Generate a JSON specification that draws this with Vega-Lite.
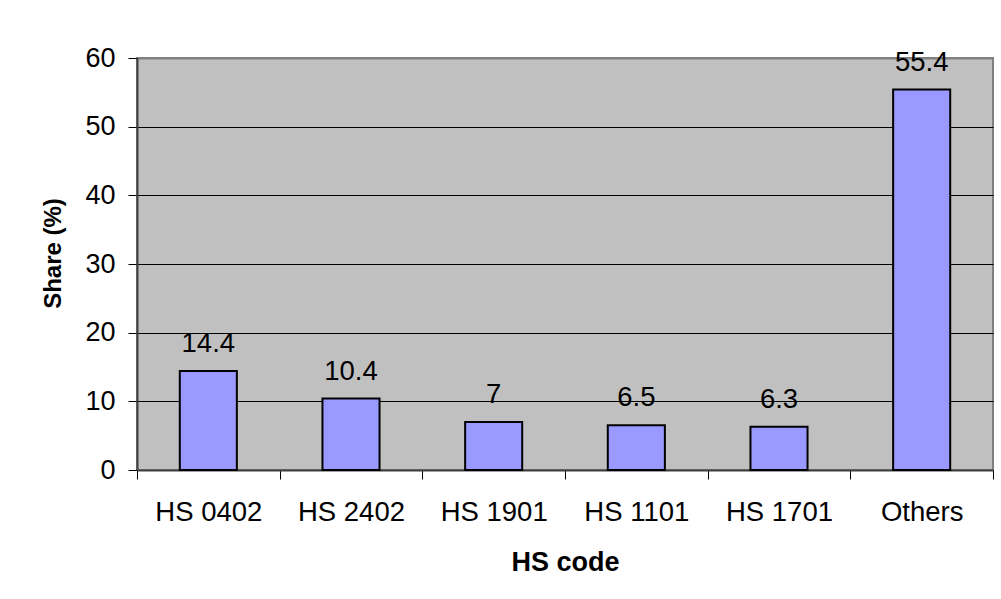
{
  "$schema": "https://vega.github.io/schema/vega-lite/v6.json",
  "autosize": "none",
  "width": 856,
  "height": 412,
  "padding": {"left": 137, "top": 58, "right": 8, "bottom": 129},
  "background": "white",
  "config": {
    "font": "Arial, Liberation Sans, sans-serif",
    "view": {"fill": "#C0C0C0", "stroke": "#808080", "strokeWidth": 2}
  },
  "data": {
    "values": [
      {"code": "HS 0402", "share": 14.4},
      {"code": "HS 2402", "share": 10.4},
      {"code": "HS 1901", "share": 7},
      {"code": "HS 1101", "share": 6.5},
      {"code": "HS 1701", "share": 6.3},
      {"code": "Others", "share": 55.4}
    ]
  },
  "encoding": {
    "x": {
      "field": "code",
      "type": "nominal",
      "sort": null,
      "scale": {"paddingInner": 0, "paddingOuter": 0},
      "axis": {
        "title": "HS code",
        "titleFontSize": 27,
        "titleFontWeight": "bold",
        "titleColor": "black",
        "titleY": 100,
        "titleBaseline": "alphabetic",
        "labelAngle": 0,
        "labelFontSize": 27.5,
        "labelColor": "black",
        "labelPadding": 19,
        "tickBand": "extent",
        "tickSize": 9,
        "tickColor": "black",
        "domainColor": "#404040",
        "domainWidth": 2,
        "grid": false
      }
    },
    "y": {
      "field": "share",
      "type": "quantitative",
      "scale": {"domain": [0, 60], "nice": false},
      "axis": {
        "title": "Share (%)",
        "titleFontSize": 24,
        "titleFontWeight": "bold",
        "titleColor": "black",
        "titleX": -84,
        "titleY": 195,
        "titleBaseline": "middle",
        "values": [0, 10, 20, 30, 40, 50, 60],
        "labelFontSize": 27,
        "labelColor": "black",
        "labelPadding": 13,
        "tickSize": 9,
        "tickColor": "black",
        "domainColor": "#404040",
        "domainWidth": 2,
        "grid": true,
        "gridColor": {"condition": {"test": "datum.value == 60", "value": "#808080"}, "value": "black"},
        "gridWidth": {"condition": {"test": "datum.value == 60", "value": 2}, "value": 1},
        "gridOpacity": 1
      }
    }
  },
  "layer": [
    {
      "mark": {"type": "bar", "width": {"band": 0.4}, "fill": "#9999FF", "stroke": "black", "strokeWidth": 2}
    },
    {
      "mark": {"type": "text", "baseline": "alphabetic", "dy": -19, "fontSize": 27.5, "color": "black"},
      "encoding": {"text": {"field": "share", "type": "quantitative"}}
    }
  ]
}
